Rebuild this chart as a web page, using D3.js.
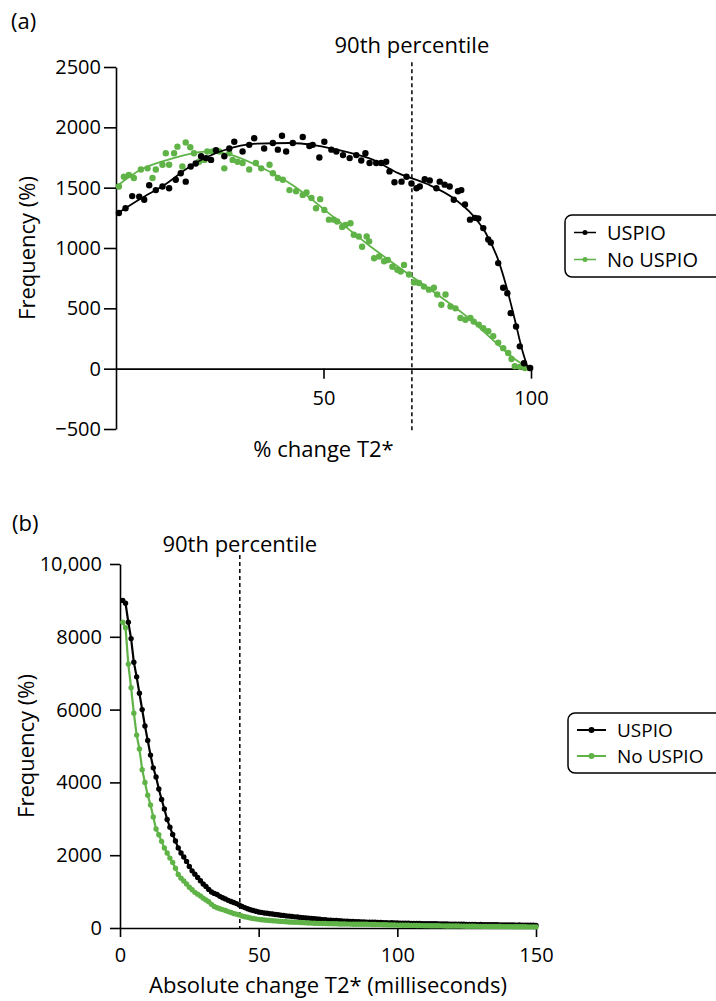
<!DOCTYPE html>
<html>
<head>
<meta charset="utf-8">
<script src="https://cdn.jsdelivr.net/npm/d3@7"></script>
<style>
  body { margin: 0; background: #fff; }
  svg text { font-family: "Open Sans", sans-serif; fill: #000; }
</style>
</head>
<body>
<div id="chart"></div>
<script>
// ---- panel (a): % change T2*, scatter [x, frequency] + fitted curve
const aUspio = [[0.7,1290],[2.3,1330],[3.9,1430],[5.6,1425],[6.8,1400],[8,1520],[9.6,1480],[11.2,1510],[12.8,1495],
  [14.4,1565],[15.6,1620],[16.8,1550],[18,1675],[19.2,1700],[20.5,1760],[21.7,1745],[22.9,1730],[24.1,1810],[26.1,1760],
  [27.3,1825],[28.5,1880],[30.5,1800],[32.1,1855],[33.3,1910],[35.7,1825],[37.8,1870],[39,1815],[40,1930],[41,1800],
  [42.6,1870],[45,1920],[46.6,1845],[47.4,1855],[49,1750],[50.2,1880],[51.9,1815],[53.1,1800],[54.7,1770],[56.3,1745],
  [57.9,1770],[59.1,1725],[60.1,1785],[61.1,1705],[62.7,1705],[63.9,1705],[65.1,1715],[65.9,1635],[67.1,1545],[68.8,1550],
  [70,1590],[71.2,1535],[72.4,1495],[73.2,1510],[74.4,1570],[75.6,1560],[77.2,1495],[78,1550],[79.2,1525],[80.4,1510],
  [81.4,1400],[82.4,1470],[83.2,1480],[84.1,1360],[85.3,1235],[86.5,1250],[87.3,1245],[88.5,1165],[89.7,1070],[90.3,1045],
  [92.1,875],[93.3,670],[94.3,625],[95.1,460],[96.4,350],[97.3,185],[98.3,45],[99.8,5]];
const aNoUspio = [[0.7,1510],[1.9,1590],[3.1,1605],[4.3,1580],[6,1650],[7.6,1660],[8.8,1580],[9.6,1650],[11.2,1690],
  [12,1785],[12.8,1690],[14,1785],[14.8,1840],[16,1675],[16.8,1875],[17.9,1835],[18.8,1785],[20,1715],[21.3,1730],[22,1800],
  [23.3,1800],[24.9,1800],[26.1,1660],[27.3,1785],[28.1,1730],[29.3,1715],[30.5,1705],[32.1,1650],[33.7,1705],[35,1660],
  [37,1690],[37.8,1620],[39,1580],[40.2,1565],[41.8,1480],[43.4,1470],[45,1440],[45.9,1460],[47.1,1415],[48.2,1330],
  [49.2,1405],[50.2,1315],[51.3,1235],[52.5,1235],[53.3,1220],[54.5,1175],[55.3,1190],[56.5,1205],[57.3,1110],[58.5,1095],
  [59.3,1010],[60.4,1095],[61,1055],[62.2,915],[63.4,930],[64.6,890],[65.5,900],[66.6,845],[67.8,820],[68.6,805],[69.4,860],
  [70.6,780],[71.8,715],[73,710],[74.2,680],[75.4,655],[76.6,670],[77.4,615],[78.4,530],[79.4,615],[80.6,515],[81.8,500],
  [83,420],[84.2,405],[85.4,420],[86.2,390],[87.4,365],[88.5,335],[89.7,310],[90.9,270],[92.1,215],[93.3,170],[94.5,130],
  [95.3,80],[96.1,20],[97.3,15],[98.5,5],[99.6,5]];
const aUspioFit = [[0.5,1290],[6,1410],[12,1530],[18,1680],[26,1810],[34,1865],[42,1870],[48,1850],[55,1800],[62,1730],
  [68,1620],[75,1530],[81,1420],[86,1270],[89,1130],[92,910],[94,690],[96,420],[98,140],[99.3,0]];
const aNoUspioFit = [[0.5,1520],[6,1650],[12.8,1735],[18.4,1785],[22.5,1800],[27.3,1775],[34.5,1675],[42.6,1520],
  [52.3,1260],[60.3,1040],[68.4,834],[76.4,640],[84.5,433],[92.5,185],[96.5,69],[99.8,5]];
const aYTicks = [-500, 0, 500, 1000, 1500, 2000, 2500];
const aXTicks = [50, 100];
const aPct90 = 71.3;

// ---- panel (b): absolute change T2*, one value per millisecond bin (1..150)
const bUspio = [9000,8920,8400,7950,7300,6900,6450,6000,5550,5150,4750,4400,4150,3820,3530,3270,2980,2770,2570,2390,
  2200,2060,1950,1830,1690,1570,1480,1390,1300,1210,1140,1060,990,950,920,870,830,800,760,730,
  700,670,630,590,560,530,500,480,460,440,428,414,406,393,386,372,364,351,346,333,
  327,316,306,301,290,286,274,270,260,256,246,241,230,226,217,215,206,205,198,197,
  190,189,182,181,174,173,166,167,160,161,156,156,151,151,146,147,142,143,138,139,
  134,135,131,131,127,128,124,125,121,121,118,119,115,116,112,113,109,110,107,107,
  104,105,101,102,99,99,96,97,94,95,92,93,90,91,88,89,86,87,85,85,
  82,83,80,81,78,79,76,77,74,73];
const bNoUspio = [8400,8250,7250,6600,5900,5300,4920,4350,4000,3650,3380,3050,2720,2560,2380,2200,2060,1920,1800,1640,
  1470,1370,1290,1210,1120,1050,980,930,880,820,770,720,650,590,555,530,505,480,450,425,
  400,380,360,330,310,295,275,262,250,238,228,221,214,208,200,195,188,181,177,170,
  166,161,158,155,150,147,141,139,134,130,128,127,123,123,120,120,116,115,111,110,
  109,107,107,105,105,103,103,101,101,100,97,97,93,93,89,89,85,85,81,80,
  78,77,75,74,72,71,69,68,66,65,64,63,62,61,60,59,58,57,56,55,
  54,53,52,51,50,49,48,47,46,45,44,44,43,42,41,40,40,39,38,38,
  37,36,35,35,34,33,32,32,31,30];
const bYTicks = [0, 2000, 4000, 6000, 8000, 10000];
const bYLabels = ["0", "2000", "4000", "6000", "8000", "10,000"];
const bXTicks = [0, 50, 100, 150];
const bPct90 = 43.2;

const seriesNames = ["USPIO", "No USPIO"];
const green = "#5fb347";
const tickFont = "20px", labelFont = "22px";

const svg = d3.select("#chart")
    .append("svg")
    .attr("width", 716)
    .attr("height", 1001);

function styleAxis(g) {
    g.selectAll("path, line").attr("stroke", "#000").attr("stroke-width", 1.6);
    g.selectAll("text").style("font-size", tickFont).attr("fill", "#000");
}

function legend(x, y, rowGap, lineW, r, sw, fs) {
    const g = svg.append("g").attr("transform", `translate(${x},${y})`);
    g.append("rect")
        .attr("width", 180).attr("height", rowGap * 2 + 8)
        .attr("rx", 7).attr("fill", "#fff")
        .attr("stroke", "#000").attr("stroke-width", 1.5);
    seriesNames.forEach((name, i) => {
        const cy = rowGap * (i + 0.5) + 4;
        const col = i === 0 ? "#000" : green;
        g.append("line").attr("x1", 9).attr("x2", 9 + lineW)
            .attr("y1", cy).attr("y2", cy)
            .attr("stroke", col).attr("stroke-width", sw);
        g.append("circle").attr("cx", 9 + lineW / 2).attr("cy", cy).attr("r", r).attr("fill", col);
        g.append("text").attr("x", lineW + 20).attr("y", cy).attr("dy", "0.35em")
            .style("font-size", fs).text(name);
    });
}

// ================= panel (a)
const xA = d3.scaleLinear().domain([0, 100]).range([116, 531]);
const yA = d3.scaleLinear().domain([-500, 2500]).range([429, 67]);

svg.append("text").attr("x", 11).attr("y", 29).style("font-size", labelFont).text("(a)");

svg.append("g")
    .attr("transform", `translate(${xA(0)},0)`)
    .call(d3.axisLeft(yA).tickValues(aYTicks).tickFormat(d3.format("d"))
        .tickSize(12).tickPadding(3).tickSizeOuter(0))
    .call(styleAxis);

svg.append("g")
    .attr("transform", `translate(0,${yA(0)})`)
    .call(d3.axisBottom(xA).tickValues(aXTicks).tickSize(10).tickPadding(12).tickSizeOuter(0))
    .call(styleAxis);

svg.append("line")
    .attr("x1", xA(aPct90)).attr("x2", xA(aPct90))
    .attr("y1", yA(2540)).attr("y2", yA(-510))
    .attr("stroke", "#000").attr("stroke-width", 1.5).attr("stroke-dasharray", "4,3");

svg.append("text").attr("x", xA(aPct90)).attr("y", 53)
    .attr("text-anchor", "middle").style("font-size", labelFont).text("90th percentile");

const lineA = d3.line().x(d => xA(d[0])).y(d => yA(d[1])).curve(d3.curveMonotoneX);

svg.append("g").selectAll("circle")
    .data(aNoUspio).join("circle")
    .attr("cx", d => xA(d[0])).attr("cy", d => yA(d[1])).attr("r", 3.2).attr("fill", green);
svg.append("path").datum(aNoUspioFit)
    .attr("d", lineA).attr("fill", "none").attr("stroke", green).attr("stroke-width", 1.8);

svg.append("g").selectAll("circle")
    .data(aUspio).join("circle")
    .attr("cx", d => xA(d[0])).attr("cy", d => yA(d[1])).attr("r", 3.2).attr("fill", "#000");
svg.append("path").datum(aUspioFit)
    .attr("d", lineA).attr("fill", "none").attr("stroke", "#000").attr("stroke-width", 1.8);

svg.append("text")
    .attr("transform", `translate(35,${(yA.range()[0] + yA.range()[1]) / 2}) rotate(-90)`)
    .attr("text-anchor", "middle").style("font-size", labelFont).text("Frequency (%)");

svg.append("text").attr("x", (xA.range()[0] + xA.range()[1]) / 2).attr("y", 457)
    .attr("text-anchor", "middle").style("font-size", labelFont).text("% change T2*");

legend(565, 215, 27, 22, 2.5, 1.5, "20px");

// ================= panel (b)
const xB = d3.scaleLinear().domain([0, 150]).range([120, 536]);
const yB = d3.scaleLinear().domain([0, 10000]).range([928, 564]);

svg.append("text").attr("x", 12).attr("y", 531).style("font-size", labelFont).text("(b)");

svg.append("g")
    .attr("transform", `translate(${xB(0)},0)`)
    .call(d3.axisLeft(yB).tickValues(bYTicks).tickFormat((d, i) => bYLabels[i])
        .tickSize(10).tickPadding(8).tickSizeOuter(0))
    .call(styleAxis);

svg.append("g")
    .attr("transform", `translate(0,${yB(0)})`)
    .call(d3.axisBottom(xB).tickValues(bXTicks).tickSize(9).tickPadding(11).tickSizeOuter(0))
    .call(styleAxis);

svg.append("line")
    .attr("x1", xB(bPct90)).attr("x2", xB(bPct90))
    .attr("y1", yB(10250)).attr("y2", yB(0))
    .attr("stroke", "#000").attr("stroke-width", 1.5).attr("stroke-dasharray", "4,3");

svg.append("text").attr("x", xB(bPct90)).attr("y", 552)
    .attr("text-anchor", "middle").style("font-size", labelFont).text("90th percentile");

const lineB = d3.line().x((d, i) => xB(i + 1)).y(d => yB(d));

[[bUspio, "#000"], [bNoUspio, green]].forEach(([vals, col]) => {
    svg.append("path").datum(vals)
        .attr("d", lineB).attr("fill", "none").attr("stroke", col).attr("stroke-width", 2.2);
    svg.append("g").selectAll("circle")
        .data(vals).join("circle")
        .attr("cx", (d, i) => xB(i + 1)).attr("cy", d => yB(d)).attr("r", 2.7).attr("fill", col);
});

svg.append("text")
    .attr("transform", `translate(34,${(yB.range()[0] + yB.range()[1]) / 2}) rotate(-90)`)
    .attr("text-anchor", "middle").style("font-size", labelFont).text("Frequency (%)");

svg.append("text").attr("x", (xB.range()[0] + xB.range()[1]) / 2).attr("y", 993)
    .attr("text-anchor", "middle").style("font-size", labelFont).text("Absolute change T2* (milliseconds)");

legend(568, 713, 26, 29, 3, 2, "19px");
</script>
</body>
</html>
